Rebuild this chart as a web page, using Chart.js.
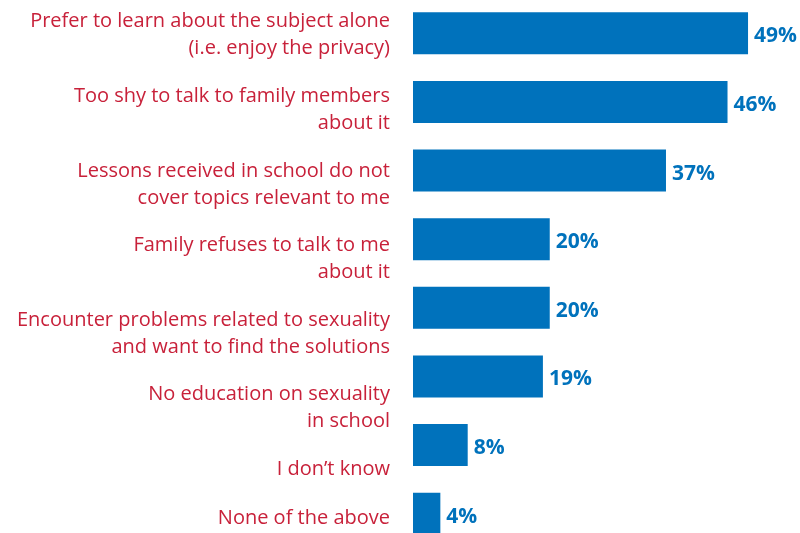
<!DOCTYPE html>
<html>
<head>
<meta charset="utf-8">
<script src="https://cdn.jsdelivr.net/npm/chart.js@4.4.1/dist/chart.umd.min.js"></script>
<style>
  html, body { margin: 0; padding: 0; background: #ffffff; overflow: hidden; }
  body { width: 800px; height: 533px; position: relative; }
  #wrap { position: absolute; left: 0; top: -1px; width: 800px; height: 549px; }
</style>
</head>
<body>
<div id="wrap"><canvas id="chart"></canvas></div>
<script>
// Reasons given (each label split into its printed lines)
const categories = [
  ["Prefer to learn about the subject alone", "(i.e. enjoy the privacy)"],
  ["Too shy to talk to family members", "about it"],
  ["Lessons received in school do not", "cover topics relevant to me"],
  ["Family refuses to talk to me", "about it"],
  ["Encounter problems related to sexuality", "and want to find the solutions"],
  ["No education on sexuality", "in school"],
  ["I don\u2019t know"],
  ["None of the above"]
];
// Share of respondents, percent
const shares = [49, 46, 37, 20, 20, 19, 8, 4];

const BLUE = "#0072bc";
const RED = "#c8213a";
const LABEL_FONT = "20px 'Open Sans', sans-serif";
const VALUE_FONT = "bold 21px 'Open Sans', sans-serif";

// Category captions, drawn right-aligned to the left of the bars
const captionPlugin = {
  id: "captions",
  afterDraw(chart) {
    const ctx = chart.ctx;
    const area = chart.chartArea;
    const xRight = area.left - 23;
    const firstBaseline = 28.3;   // baseline of the first caption line
    const step = 74.6;            // spacing between captions
    const lineH = 27;
    const lowest = chart.height - 24; // keep the last caption inside the page
    ctx.save();
    ctx.font = LABEL_FONT;
    ctx.fillStyle = RED;
    ctx.textAlign = "right";
    ctx.textBaseline = "alphabetic";
    categories.forEach((lines, i) => {
      let y = firstBaseline + i * step;
      const lastY = y + (lines.length - 1) * lineH;
      if (lastY > lowest) y -= lastY - lowest;
      lines.forEach((t, j) => ctx.fillText(t, xRight, y + j * lineH));
    });
    ctx.restore();
  }
};

// Percentage labels at the end of each bar
const valuePlugin = {
  id: "values",
  afterDatasetsDraw(chart) {
    const ctx = chart.ctx;
    const meta = chart.getDatasetMeta(0);
    ctx.save();
    ctx.font = VALUE_FONT;
    ctx.fillStyle = BLUE;
    ctx.textAlign = "left";
    ctx.textBaseline = "middle";
    meta.data.forEach((bar, i) => {
      ctx.fillText(shares[i] + "%", bar.x + 6, bar.y + 3);
    });
    ctx.restore();
  }
};

new Chart(document.getElementById("chart"), {
  type: "bar",
  data: {
    labels: categories.map(l => l.join(" ")),
    datasets: [{
      data: shares,
      backgroundColor: BLUE,
      borderWidth: 0,
      barPercentage: 0.612,
      categoryPercentage: 1.0
    }]
  },
  options: {
    indexAxis: "y",
    responsive: true,
    maintainAspectRatio: false,
    animation: false,
    layout: { padding: { left: 413, right: 0, top: 0, bottom: 0 } },
    scales: {
      x: { display: false, min: 0, max: 56.6 },
      y: { display: false }
    },
    plugins: {
      legend: { display: false },
      tooltip: { enabled: false }
    }
  },
  plugins: [captionPlugin, valuePlugin]
});
</script>
</body>
</html>
